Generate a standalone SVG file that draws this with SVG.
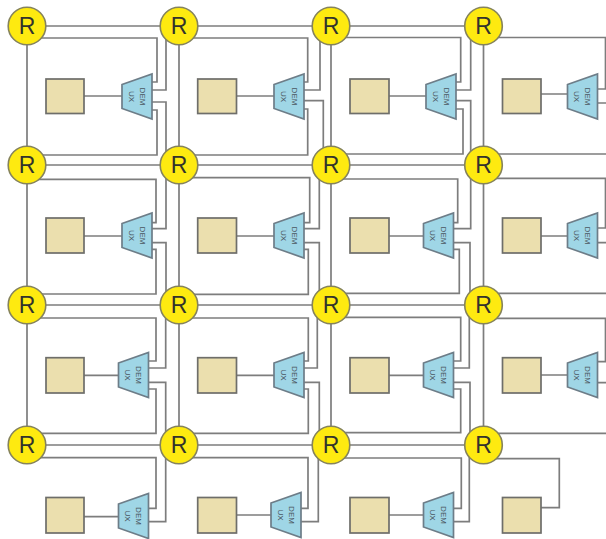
<svg xmlns="http://www.w3.org/2000/svg" width="606" height="539" viewBox="0 0 606 539">
<style>
.bg{fill:#fff}
.c{fill:none;stroke:#7d7d7d;stroke-width:1.7}
.r{fill:#feea10;stroke:#85835c;stroke-width:1.6}
.rt{font:23px "Liberation Sans",Arial,sans-serif;fill:#33332c;text-anchor:middle}
.p{fill:#ebdfae;stroke:#6e6e6a;stroke-width:1.7}
.d{fill:#9fd6e6;stroke:#6d7d88;stroke-width:1.7}
.dt{font:8px "Liberation Sans",Arial,sans-serif;fill:#4a5560;text-anchor:middle}
</style>
<defs>
<polygon id="tz" class="d" points="0,-12 30,-22.5 30,22.5 0,12"/>
<circle id="rc" class="r" r="18.8"/>
</defs>
<rect class="bg" width="606" height="539"/>
<g id="connectors" class="c">
<path d="M27 26H483.5M27 165H483.5M27 305H483.5M27 445H483.5M27 26V445M179 26V445M331 26V445M483.5 26V445"/>
<path d="M37 38H157V82H151M166 35V90H151M166 155V102H151M37 155H157V110H151M84 96H122"/>
<path d="M189 38H307.7V82H304M320 35V90H304M323.3 155V100.7H304M189 155H307.7V109H304M236.5 96H274"/>
<path d="M341 37.5H460.7V82H456M470.7 35V90H456M470.7 155V100.7H456M341 154H463V109H456M389 96H426"/>
<path d="M493 37.5H605.5V89H597M597 103H606M493 154H606M541 94H567.5"/>
<path d="M37 179.3H156V222.7H151M166 175V228.7H151M166 295V242.7H151M37 294H156V249.3H151M84 236H122"/>
<path d="M189 177.7H309.7V222.7H304M319.3 175V228.7H304M319.3 295V242.7H304M189 294.3H308.3V249.3H304M236.5 236H274"/>
<path d="M341 179H457.7V222.7H453.5M470.7 175V228.7H453.5M470 295V242.7H453.5M341 293.3H459.3V249.3H453.5M389 236H423.5"/>
<path d="M493 178.3H605.5V228H597.5M597.5 242.7H606M493 293.3H606M541 236H567.5"/>
<path d="M37 318H156V361H148.5M165.7 315V368H148.5M165.7 435V382.3H148.5M37 433.3H156V389H148.5M84 375.3H118.5"/>
<path d="M189 318H308.3V361H304M317.3 315V368H304M319.3 435V382.3H304M189 433.3H308.3V389H304M236.5 375.3H274"/>
<path d="M341 317.3H460.7V361H453.5M469.3 315V368H453.5M470 435V382.3H453.5M341 432.7H460.7V389H453.5M389 375.3H423.5"/>
<path d="M493 318.3H605.5V361.7H597.5M597.5 382.7H606M493 433.3H606M541 375H567.5"/>
<path d="M37 457.7H156V508.3H148.5M165.7 455V521.7H148.5M84 516.7H118.5"/>
<path d="M189 457.7H308V508.3H301M318.3 455V521.7H301M236.5 515H271"/>
<path d="M341 458H461.3V508.3H453.5M469.3 455V521.7H453.5M389 515H423.5"/>
<path d="M493 458.7H559.3V507.7H541"/>
</g>
<g id="router-0-0" transform="translate(27,26)"><use href="#rc"/><text class="rt" y="8">R</text></g>
<g id="router-0-1" transform="translate(179,26)"><use href="#rc"/><text class="rt" y="8">R</text></g>
<g id="router-0-2" transform="translate(331,26)"><use href="#rc"/><text class="rt" y="8">R</text></g>
<g id="router-0-3" transform="translate(483.5,26)"><use href="#rc"/><text class="rt" y="8">R</text></g>
<g id="router-1-0" transform="translate(27,165)"><use href="#rc"/><text class="rt" y="8">R</text></g>
<g id="router-1-1" transform="translate(179,165)"><use href="#rc"/><text class="rt" y="8">R</text></g>
<g id="router-1-2" transform="translate(331,165)"><use href="#rc"/><text class="rt" y="8">R</text></g>
<g id="router-1-3" transform="translate(483.5,165)"><use href="#rc"/><text class="rt" y="8">R</text></g>
<g id="router-2-0" transform="translate(27,305)"><use href="#rc"/><text class="rt" y="8">R</text></g>
<g id="router-2-1" transform="translate(179,305)"><use href="#rc"/><text class="rt" y="8">R</text></g>
<g id="router-2-2" transform="translate(331,305)"><use href="#rc"/><text class="rt" y="8">R</text></g>
<g id="router-2-3" transform="translate(483.5,305)"><use href="#rc"/><text class="rt" y="8">R</text></g>
<g id="router-3-0" transform="translate(27,445)"><use href="#rc"/><text class="rt" y="8">R</text></g>
<g id="router-3-1" transform="translate(179,445)"><use href="#rc"/><text class="rt" y="8">R</text></g>
<g id="router-3-2" transform="translate(331,445)"><use href="#rc"/><text class="rt" y="8">R</text></g>
<g id="router-3-3" transform="translate(483.5,445)"><use href="#rc"/><text class="rt" y="8">R</text></g>
<g id="core-0-0"><rect class="p" x="46" y="79" width="38" height="34.5"/></g>
<g id="core-0-1"><rect class="p" x="197.7" y="79" width="38.8" height="34.5"/></g>
<g id="core-0-2"><rect class="p" x="350" y="79" width="39" height="34.5"/></g>
<g id="core-0-3"><rect class="p" x="502.5" y="79" width="38.5" height="34.5"/></g>
<g id="core-1-0"><rect class="p" x="46" y="218" width="38" height="35"/></g>
<g id="core-1-1"><rect class="p" x="197.7" y="218" width="38.8" height="35"/></g>
<g id="core-1-2"><rect class="p" x="350" y="218" width="39" height="35"/></g>
<g id="core-1-3"><rect class="p" x="502.5" y="218" width="38.5" height="35"/></g>
<g id="core-2-0"><rect class="p" x="46" y="357.7" width="38" height="35.3"/></g>
<g id="core-2-1"><rect class="p" x="197.7" y="357.7" width="38.8" height="35.3"/></g>
<g id="core-2-2"><rect class="p" x="350" y="357.7" width="39" height="35.3"/></g>
<g id="core-2-3"><rect class="p" x="502.5" y="357.7" width="38.5" height="35.3"/></g>
<g id="core-3-0"><rect class="p" x="46" y="497.5" width="38" height="35.5"/></g>
<g id="core-3-1"><rect class="p" x="197.7" y="497.5" width="38.8" height="35.5"/></g>
<g id="core-3-2"><rect class="p" x="350" y="497.5" width="39" height="35.5"/></g>
<g id="core-3-3"><rect class="p" x="502.5" y="497.5" width="38.5" height="35.5"/></g>
<g id="demux-0-0" transform="translate(122,96.5)"><use href="#tz"/><text class="dt" transform="translate(17.7,0) rotate(90)">DEM</text><text class="dt" transform="translate(6.7,0) rotate(90)">UX</text></g>
<g id="demux-0-1" transform="translate(274,96.5)"><use href="#tz"/><text class="dt" transform="translate(17.7,0) rotate(90)">DEM</text><text class="dt" transform="translate(6.7,0) rotate(90)">UX</text></g>
<g id="demux-0-2" transform="translate(426,96.5)"><use href="#tz"/><text class="dt" transform="translate(17.7,0) rotate(90)">DEM</text><text class="dt" transform="translate(6.7,0) rotate(90)">UX</text></g>
<g id="demux-0-3" transform="translate(567.5,96.5)"><use href="#tz"/><text class="dt" transform="translate(17.7,0) rotate(90)">DEM</text><text class="dt" transform="translate(6.7,0) rotate(90)">UX</text></g>
<g id="demux-1-0" transform="translate(122,235.5)"><use href="#tz"/><text class="dt" transform="translate(17.7,0) rotate(90)">DEM</text><text class="dt" transform="translate(6.7,0) rotate(90)">UX</text></g>
<g id="demux-1-1" transform="translate(274,235.5)"><use href="#tz"/><text class="dt" transform="translate(17.7,0) rotate(90)">DEM</text><text class="dt" transform="translate(6.7,0) rotate(90)">UX</text></g>
<g id="demux-1-2" transform="translate(423.5,235.5)"><use href="#tz"/><text class="dt" transform="translate(17.7,0) rotate(90)">DEM</text><text class="dt" transform="translate(6.7,0) rotate(90)">UX</text></g>
<g id="demux-1-3" transform="translate(567.5,235.5)"><use href="#tz"/><text class="dt" transform="translate(17.7,0) rotate(90)">DEM</text><text class="dt" transform="translate(6.7,0) rotate(90)">UX</text></g>
<g id="demux-2-0" transform="translate(118.5,375)"><use href="#tz"/><text class="dt" transform="translate(17.7,0) rotate(90)">DEM</text><text class="dt" transform="translate(6.7,0) rotate(90)">UX</text></g>
<g id="demux-2-1" transform="translate(274,375)"><use href="#tz"/><text class="dt" transform="translate(17.7,0) rotate(90)">DEM</text><text class="dt" transform="translate(6.7,0) rotate(90)">UX</text></g>
<g id="demux-2-2" transform="translate(423.5,375)"><use href="#tz"/><text class="dt" transform="translate(17.7,0) rotate(90)">DEM</text><text class="dt" transform="translate(6.7,0) rotate(90)">UX</text></g>
<g id="demux-2-3" transform="translate(567.5,375)"><use href="#tz"/><text class="dt" transform="translate(17.7,0) rotate(90)">DEM</text><text class="dt" transform="translate(6.7,0) rotate(90)">UX</text></g>
<g id="demux-3-0" transform="translate(118.5,516)"><use href="#tz"/><text class="dt" transform="translate(17.7,0) rotate(90)">DEM</text><text class="dt" transform="translate(6.7,0) rotate(90)">UX</text></g>
<g id="demux-3-1" transform="translate(271,515)"><use href="#tz"/><text class="dt" transform="translate(17.7,0) rotate(90)">DEM</text><text class="dt" transform="translate(6.7,0) rotate(90)">UX</text></g>
<g id="demux-3-2" transform="translate(423.5,515)"><use href="#tz"/><text class="dt" transform="translate(17.7,0) rotate(90)">DEM</text><text class="dt" transform="translate(6.7,0) rotate(90)">UX</text></g>
</svg>
